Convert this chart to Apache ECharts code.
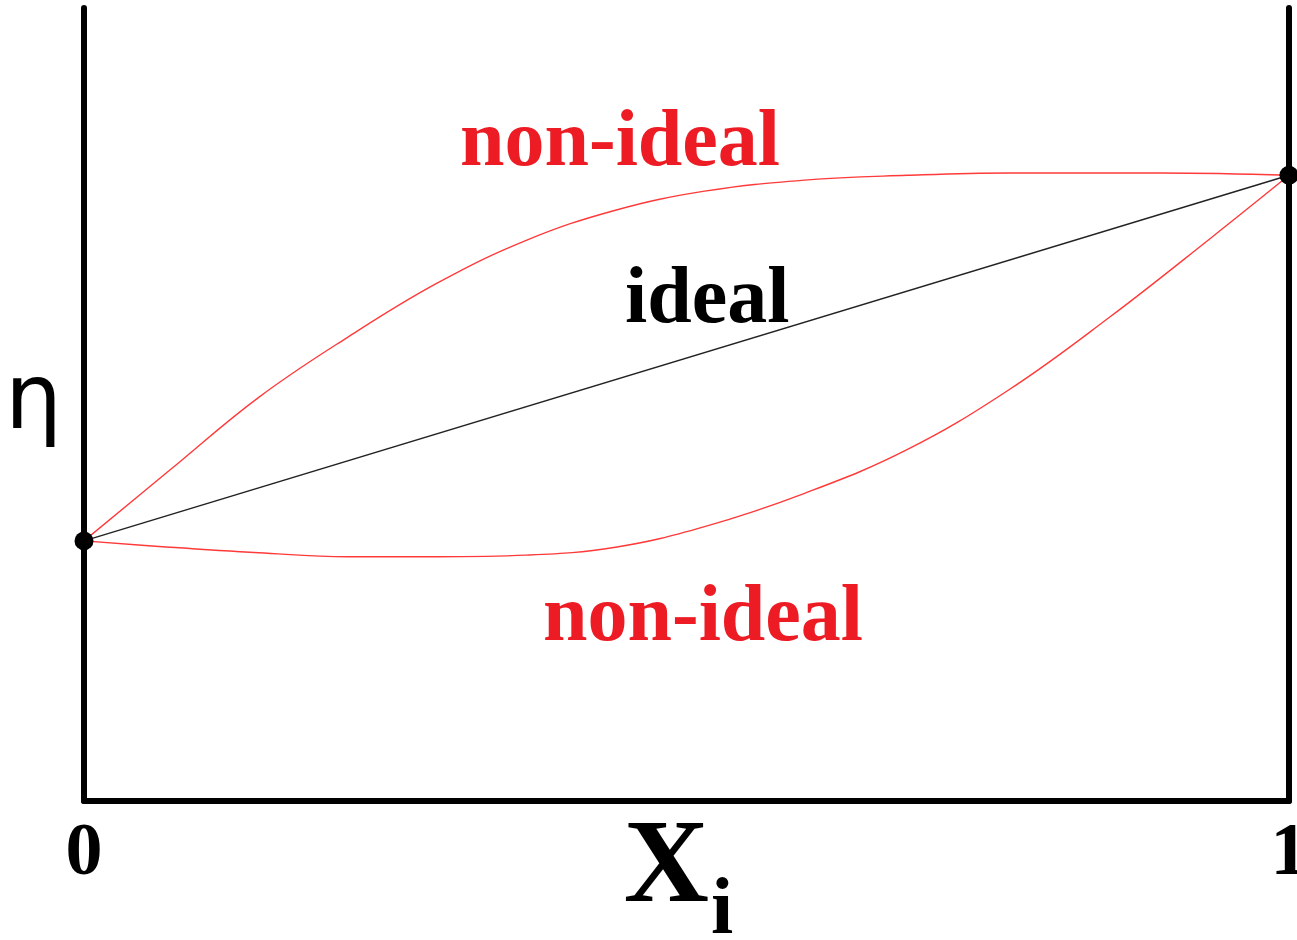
<!DOCTYPE html>
<html>
<head>
<meta charset="utf-8">
<title>eta vs Xi</title>
<script src="https://cdn.jsdelivr.net/npm/echarts@6/dist/echarts.min.js"></script>
<style>
  html, body { margin: 0; padding: 0; background: #fff; }
  #chart { width: 1297px; height: 940px; }
</style>
</head>
<body>
<div id="chart"></div>
<script>
// mole fraction X_i (0..1) and relative eta (axis runs 0..1)
const upperX = [0, 0.071, 0.145, 0.219, 0.293, 0.367, 0.441, 0.515, 0.598, 0.683, 0.767, 0.894, 1];
const upperY = [0.328, 0.417, 0.509, 0.585, 0.653, 0.707, 0.745, 0.769, 0.783, 0.789, 0.792, 0.792, 0.789];
const lowerX = [0, 0.071, 0.145, 0.219, 0.293, 0.367, 0.441, 0.515, 0.598, 0.683, 0.767, 0.851, 0.936, 1];
const lowerY = [0.328, 0.320, 0.313, 0.308, 0.308, 0.310, 0.320, 0.346, 0.388, 0.443, 0.518, 0.610, 0.711, 0.789];
const idealX = [0, 1];
const idealY = [0.328, 0.789];
const tickLabels = ["0", "1"];

const pairs = (xs, ys) => xs.map((x, i) => [x, ys[i]]);

const serif = "'Liberation Serif', 'Times New Roman', serif";
const red = "#ed1c24";

const chart = echarts.init(document.getElementById("chart"));

const option = {
  animation: false,
  backgroundColor: "#fff",
  grid: { left: 84, right: 8, top: 8, bottom: 139, outerBoundsMode: "none", containLabel: false },
  xAxis: {
    type: "value",
    min: 0,
    max: 1,
    interval: 1,
    axisLine: { show: true, lineStyle: { color: "#000", width: 6 } },
    axisTick: { show: false },
    splitLine: { show: false },
    axisLabel: {
      margin: 17,
      formatter: v => tickLabels[Math.round(v)],
      fontFamily: serif,
      fontWeight: "bold",
      fontSize: 74,
      color: "#000"
    },
    name: "{x|X}{s|i}",
    nameLocation: "middle",
    nameGap: 11,
    nameMoveOverlap: false,
    nameTextStyle: {
      rich: {
        x: { fontFamily: serif, fontWeight: "bold", fontSize: 118, color: "#000", verticalAlign: "top" },
        s: { fontFamily: serif, fontWeight: "bold", fontSize: 80, color: "#000", verticalAlign: "top", padding: [60, 16, 0, 2] }
      }
    }
  },
  yAxis: [
    {
      type: "value",
      min: 0,
      max: 1,
      axisLine: { show: true, lineStyle: { color: "#000", width: 6 } },
      axisTick: { show: false },
      axisLabel: { show: false },
      splitLine: { show: false },
      name: "η",
      nameLocation: "middle",
      nameRotate: 0,
      nameGap: 22,
      nameTextStyle: { fontFamily: "'DejaVu Sans', sans-serif", fontSize: 90, color: "#000" }
    },
    {
      type: "value",
      position: "right",
      min: 0,
      max: 1,
      axisLine: { show: true, lineStyle: { color: "#000", width: 6 } },
      axisTick: { show: false },
      axisLabel: { show: false },
      splitLine: { show: false }
    }
  ],
  series: [
    {
      name: "non-ideal (positive)",
      type: "line",
      data: pairs(upperX, upperY),
      smooth: 0.4,
      showSymbol: false,
      lineStyle: { color: "#ff3a3a", width: 1.4 }
    },
    {
      name: "non-ideal (negative)",
      type: "line",
      data: pairs(lowerX, lowerY),
      smooth: 0.4,
      showSymbol: false,
      lineStyle: { color: "#ff3a3a", width: 1.4 }
    },
    {
      name: "ideal",
      type: "line",
      data: pairs(idealX, idealY),
      showSymbol: false,
      lineStyle: { color: "#222", width: 1.5 }
    },
    {
      name: "pure components",
      type: "scatter",
      data: pairs(idealX, idealY),
      symbolSize: 19,
      clip: false,
      itemStyle: { color: "#000", opacity: 1 },
      z: 5
    }
  ],
  graphic: [
    { type: "text", left: 460, top: 104, style: { text: "non-ideal", fill: red, font: "bold 80px " + serif } },
    { type: "text", left: 625, top: 261, style: { text: "ideal", fill: "#000", font: "bold 80px " + serif } },
    { type: "text", left: 543, top: 579, style: { text: "non-ideal", fill: red, font: "bold 80px " + serif } }
  ]
};

chart.setOption(option);
</script>
</body>
</html>
